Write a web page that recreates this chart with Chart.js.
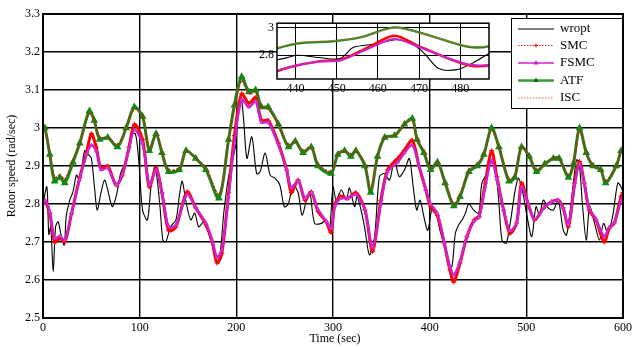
<!DOCTYPE html>
<html>
<head>
<meta charset="utf-8">
<script src="https://cdn.jsdelivr.net/npm/chart.js@4.4.1/dist/chart.umd.min.js"></script>
<style>
  html, body { margin: 0; padding: 0; background: #fff; }
  #wrap { position: relative; width: 635px; height: 347px; }
  #main { position: absolute; left: 0; top: 0; }
  #inset { position: absolute; left: 245px; top: 13px; }
</style>
</head>
<body>
<div id="wrap">
  <canvas id="main" width="635" height="347"></canvas>
  <canvas id="inset" width="250" height="87"></canvas>
</div>
<script>
const FONT = '"Liberation Serif", "Times New Roman", serif';

// ================================================================
// data
// ================================================================

const tRef = [0, 4, 6, 8, 10.6, 13, 15.7, 19, 22, 24, 27.7, 31, 34.6, 38, 43, 47, 50, 53.4, 56, 60,
  63.7, 67, 71.6, 75.7, 80.8, 86, 91, 95.5, 99, 103, 108, 111.7, 116, 121, 124, 127, 132, 137.5, 141, 144,
  147.6, 152.8, 157, 161, 166.4, 171.6, 175, 178.5, 182.6, 187, 192, 199, 202.4, 205, 207.6, 211, 216, 221, 224.6, 229.8,
  235, 240, 245, 249.6, 253.7, 258.8, 264, 268, 272.6, 276, 281, 288, 293, 296.6, 300, 303.4, 308.6, 313.7, 317, 322.3,
  325, 329, 332.6, 337.7, 343, 348, 353, 358.5, 363.5, 368.5, 374, 379, 383, 386.6, 390, 394, 398, 402.8, 406, 410.6,
  414.7, 419.8, 423, 426.6, 430, 433.5, 437, 440.5, 445.6, 450.8, 454, 459.3, 464.4, 468, 471.4, 474.8, 479.2, 483.3, 488.5, 492,
  496.4, 500.5, 505.6, 510, 513.5, 517.6, 522.8, 527.9, 533, 538.2, 541.6, 546.7, 551.8, 554.6, 558, 562, 565.5, 570.6, 575.7, 579.9,
  584.3, 589.5, 594.6, 598, 600];
const wropt = [2.80, 2.845, 2.72, 2.74, 2.622, 2.74, 2.753, 2.714, 2.692, 2.767, 2.81, 2.832, 2.876, 2.86, 2.94, 2.93, 2.92, 2.84, 2.784, 2.829,
  2.863, 2.837, 2.793, 2.82, 2.885, 2.911, 2.98, 2.985, 2.916, 2.784, 2.758, 2.845, 2.898, 2.793, 2.705, 2.70, 2.74, 2.758, 2.82, 2.86,
  2.81, 2.758, 2.776, 2.74, 2.753, 2.731, 2.697, 2.66, 2.66, 2.776, 2.872, 2.95, 3.056, 3.08, 3.02, 2.92, 2.977, 2.88, 2.885, 2.934,
  2.876, 2.868, 2.85, 2.793, 2.80, 2.85, 2.829, 2.771, 2.81, 2.832, 2.749, 2.749, 2.758, 2.737, 2.845, 2.81, 2.837, 2.81, 2.842, 2.793,
  2.82, 2.784, 2.74, 2.666, 2.714, 2.872, 2.88, 2.863, 2.916, 2.872, 2.89, 2.92, 2.845, 2.784, 2.81, 2.767, 2.731, 2.793, 2.784, 2.731,
  2.697, 2.644, 2.635, 2.723, 2.745, 2.758, 2.776, 2.80, 2.784, 2.776, 2.855, 2.88, 2.911, 2.89, 2.81, 2.705, 2.697, 2.749, 2.837, 2.868,
  2.829, 2.771, 2.714, 2.793, 2.771, 2.81, 2.789, 2.784, 2.81, 2.731, 2.718, 2.81, 2.916, 2.911, 2.80, 2.705, 2.793, 2.749, 2.705, 2.749,
  2.723, 2.771, 2.855, 2.845, 2.83];

const tCtl = [0, 2, 7, 12, 17.5, 22.6, 29.5, 38, 45, 50, 55, 60, 67, 75.7, 82, 89, 94.5, 103, 110, 117,
  123, 130, 137.5, 149, 158, 168.5, 175, 180, 185, 192, 198, 205.5, 213, 220, 226, 233, 243.5, 252, 257, 264,
  271, 277.5, 284.6, 293, 298, 302, 308, 315.5, 323.6, 333, 341, 349.5, 356.5, 367, 374, 382, 389, 396, 401, 408,
  415, 421, 425, 431.5, 438.5, 446, 451, 457.5, 464, 469.5, 476.5, 483, 490, 495, 502, 508.6, 518, 526, 533, 538,
  543.5, 550, 555, 560, 565, 572, 580.5, 586, 591, 598, 600];
const smc = [2.81, 2.81, 2.775, 2.70, 2.71, 2.70, 2.775, 2.87, 2.935, 2.985, 2.95, 2.895, 2.90, 2.85, 2.876, 2.95, 3.01, 2.97, 2.845, 2.895,
  2.83, 2.73, 2.74, 2.832, 2.79, 2.745, 2.70, 2.645, 2.67, 2.83, 2.98, 3.09, 3.065, 3.08, 3.02, 3.02, 2.96, 2.89, 2.83, 2.863,
  2.81, 2.832, 2.78, 2.753, 2.725, 2.80, 2.82, 2.815, 2.83, 2.785, 2.675, 2.81, 2.89, 2.92, 2.942, 2.968, 2.90, 2.837, 2.793, 2.77,
  2.697, 2.626, 2.595, 2.645, 2.714, 2.758, 2.767, 2.855, 2.94, 2.872, 2.784, 2.723, 2.75, 2.855, 2.80, 2.758, 2.79, 2.806, 2.81, 2.79,
  2.74, 2.855, 2.912, 2.855, 2.784, 2.758, 2.70, 2.737, 2.75, 2.82, 2.83];
const fsmc = [2.80, 2.81, 2.78, 2.71, 2.715, 2.705, 2.775, 2.865, 2.93, 2.955, 2.94, 2.89, 2.895, 2.85, 2.876, 2.945, 2.995, 2.96, 2.85, 2.89,
  2.83, 2.74, 2.745, 2.825, 2.79, 2.75, 2.705, 2.66, 2.68, 2.82, 2.96, 3.075, 3.055, 3.07, 3.015, 3.015, 2.955, 2.89, 2.842, 2.86,
  2.815, 2.83, 2.785, 2.755, 2.735, 2.795, 2.815, 2.815, 2.825, 2.785, 2.685, 2.80, 2.885, 2.91, 2.935, 2.955, 2.90, 2.84, 2.80, 2.775,
  2.70, 2.635, 2.613, 2.65, 2.715, 2.755, 2.765, 2.845, 2.916, 2.865, 2.785, 2.73, 2.75, 2.845, 2.80, 2.76, 2.79, 2.805, 2.81, 2.79,
  2.745, 2.85, 2.905, 2.855, 2.79, 2.76, 2.715, 2.74, 2.75, 2.81, 2.82];

const tAdp = [0, 2, 7, 12, 17.5, 22.6, 31, 38, 48, 53, 58.6, 67, 77, 86, 94.5, 103, 110, 117, 123, 130,
  141, 148, 158, 168.5, 182, 192, 198, 205.5, 213, 220, 226, 233, 243.5, 254, 261, 269, 277.5, 284.6, 298, 305,
  312, 318.5, 323.6, 333, 339, 346, 353.5, 363.7, 374, 382, 387, 394, 401, 408, 416, 425, 431.5, 440.6, 449, 456,
  464, 471.6, 482, 488, 495, 503, 510.6, 519, 528, 534, 543.5, 548.6, 555, 562, 569, 577, 582, 593, 598, 600];
const atf = [3.00, 3.00, 2.93, 2.86, 2.87, 2.855, 2.91, 2.96, 3.045, 3.02, 2.97, 2.975, 2.95, 3.00, 3.055, 3.03, 2.94, 2.985, 2.935, 2.885,
  2.89, 2.94, 2.92, 2.89, 2.815, 2.97, 3.06, 3.135, 3.095, 3.10, 3.055, 3.055, 3.01, 2.95, 2.965, 2.935, 2.95, 2.90, 2.88, 2.93,
  2.94, 2.925, 2.94, 2.90, 2.83, 2.925, 2.975, 2.98, 3.01, 3.025, 2.97, 2.935, 2.89, 2.91, 2.855, 2.795, 2.82, 2.885, 2.90, 2.93,
  3.00, 2.95, 2.86, 2.87, 2.95, 2.925, 2.885, 2.905, 2.92, 2.92, 2.87, 2.905, 3.00, 2.935, 2.90, 2.89, 2.855, 2.90, 2.94, 2.94];
const isc = [3.00, 3.00, 2.935, 2.87, 2.875, 2.865, 2.915, 2.96, 3.04, 3.02, 2.975, 2.975, 2.955, 3.00, 3.05, 3.03, 2.945, 2.985, 2.94, 2.89,
  2.895, 2.94, 2.92, 2.895, 2.825, 2.97, 3.055, 3.125, 3.09, 3.095, 3.055, 3.05, 3.01, 2.955, 2.965, 2.94, 2.95, 2.905, 2.885, 2.93,
  2.94, 2.93, 2.94, 2.905, 2.84, 2.925, 2.975, 2.98, 3.01, 3.02, 2.97, 2.94, 2.895, 2.91, 2.86, 2.80, 2.825, 2.89, 2.905, 2.93,
  2.995, 2.95, 2.865, 2.875, 2.95, 2.925, 2.89, 2.905, 2.92, 2.92, 2.875, 2.905, 2.995, 2.935, 2.90, 2.89, 2.86, 2.90, 2.94, 2.94];

const xTicks = [0, 100, 200, 300, 400, 500, 600];
const yTicks = [2.5, 2.6, 2.7, 2.8, 2.9, 3, 3.1, 3.2, 3.3];
const insetXTicks = [440, 450, 460, 470, 480];
const insetYTicks = [2.8, 3];

const SERIES = ['wropt', 'SMC', 'FSMC', 'ATF', 'ISC'];

// ================================================================
// helpers
// ================================================================

function pts(ts, vs) {
  return ts.map((t, i) => ({ x: t, y: vs[i] }));
}

function buildDatasets(inset) {
  const k = inset ? 0.8 : 1;
  return [
    { label: 'wropt', data: pts(tRef, wropt), borderColor: '#000', borderWidth: 1.1,
      pointRadius: 0, tension: 0.3, order: 5 },
    { label: 'SMC', data: pts(tCtl, smc), borderColor: '#ff0000', borderWidth: 3 * k,
      pointStyle: 'cross', pointRadius: inset ? 0 : 2.5, pointBorderColor: '#ff0000', pointBorderWidth: 1,
      tension: 0.3, order: 4 },
    { label: 'FSMC', data: pts(tCtl, fsmc), borderColor: '#cc22cc', borderWidth: 2.5 * k,
      pointStyle: 'triangle', pointRadius: inset ? 0 : 1.8, pointBackgroundColor: '#e070e0', pointBorderColor: '#cc22cc', pointBorderWidth: 1,
      tension: 0.3, order: 3 },
    { label: 'ATF', data: pts(tAdp, atf), borderColor: '#1a8a1a', borderWidth: 3 * k,
      pointStyle: 'triangle', pointRadius: inset ? 0 : 1.5, pointBackgroundColor: '#138813', pointBorderColor: '#138813',
      tension: 0.3, order: 2 },
    { label: 'ISC', data: pts(tAdp, isc), borderColor: inset ? '#c07040' : '#8b4513', borderWidth: inset ? 1.3 : 1.8,
      borderDash: inset ? [2, 1] : [3, 1],
      pointRadius: 0, tension: 0.3, order: 1 },
  ];
}

const framePlugin = {
  id: 'frame',
  beforeDraw(chart) {
    const { ctx, chartArea: a } = chart;
    ctx.save();
    ctx.fillStyle = '#fff';
    ctx.fillRect(a.left, a.top, a.right - a.left, a.bottom - a.top);
    ctx.restore();
  },
  afterDraw(chart) {
    const { ctx, chartArea: a } = chart;
    ctx.save();
    ctx.strokeStyle = '#000';
    ctx.lineWidth = chart.canvas.id === 'main' ? 2 : 1.5;
    ctx.strokeRect(a.left, a.top, a.right - a.left, a.bottom - a.top);
    ctx.restore();
  },
};

// axis titles + legend box on the main chart
const decorPlugin = {
  id: 'decor',
  afterDraw(chart) {
    const { ctx } = chart;
    ctx.save();
    ctx.fillStyle = '#000';
    ctx.font = `12px ${FONT}`;
    ctx.textAlign = 'center';
    ctx.textBaseline = 'middle';
    ctx.fillText('Time (sec)', 335, 339);
    ctx.translate(12, 166);
    ctx.rotate(-Math.PI / 2);
    ctx.fillText('Rotor speed (rad/sec)', 0, 0);
    ctx.restore();

    // legend
    const bx = 511, by = 18, bw = 111, bh = 90;
    ctx.save();
    ctx.fillStyle = '#fff';
    ctx.fillRect(bx, by, bw, bh);
    ctx.strokeStyle = '#000';
    ctx.lineWidth = 1;
    ctx.strokeRect(bx + 0.5, by + 0.5, bw, bh);

    const rows = [29, 45.5, 63, 80.5, 98];
    const x0 = 518, x1 = 554, xm = 536;
    ctx.font = `13px ${FONT}`;
    ctx.textAlign = 'left';
    ctx.textBaseline = 'middle';
    SERIES.forEach((name, i) => {
      const y = rows[i];
      ctx.save();
      ctx.beginPath();
      if (name === 'wropt') { ctx.strokeStyle = '#000'; ctx.lineWidth = 1.2; }
      if (name === 'SMC') { ctx.strokeStyle = '#ff2020'; ctx.lineWidth = 1; ctx.setLineDash([1.5, 1.5]); }
      if (name === 'FSMC') { ctx.strokeStyle = '#cc22cc'; ctx.lineWidth = 1.5; }
      if (name === 'ATF') { ctx.strokeStyle = '#3a9a3a'; ctx.lineWidth = 2.5; }
      if (name === 'ISC') { ctx.strokeStyle = '#c87050'; ctx.lineWidth = 1.2; ctx.setLineDash([1.5, 1.5]); }
      ctx.moveTo(x0, y);
      ctx.lineTo(x1, y);
      ctx.stroke();
      ctx.setLineDash([]);
      if (name === 'SMC') {
        ctx.strokeStyle = '#ff0000';
        ctx.beginPath();
        ctx.moveTo(xm - 2, y); ctx.lineTo(xm + 2, y);
        ctx.moveTo(xm, y - 2); ctx.lineTo(xm, y + 2);
        ctx.stroke();
      }
      if (name === 'FSMC' || name === 'ATF') {
        ctx.fillStyle = name === 'FSMC' ? '#cc22cc' : '#0a6a0a';
        ctx.beginPath();
        ctx.moveTo(xm, y - 3); ctx.lineTo(xm + 2.5, y + 1.5); ctx.lineTo(xm - 2.5, y + 1.5);
        ctx.closePath();
        ctx.fill();
      }
      ctx.restore();
      ctx.fillStyle = '#000';
      ctx.fillText(name, 560, y);
    });
    ctx.restore();
  },
};

function axisOpts(min, max, ticks, size, fit) {
  return {
    type: 'linear',
    min, max,
    afterBuildTicks: (s) => { s.ticks = ticks.map((v) => ({ value: v })); },
    afterFit: fit,
    ticks: {
      color: '#000',
      font: { family: FONT, size },
      padding: 3,
      maxRotation: 0,
      autoSkip: false,
      callback: (v) => String(Math.round(v * 10) / 10),
    },
    grid: { color: '#000', lineWidth: 1.4, drawTicks: false },
    border: { display: false },
  };
}

// ================================================================
// charts
// ================================================================

new Chart(document.getElementById('main'), {
  type: 'line',
  data: { datasets: buildDatasets(false) },
  options: {
    responsive: false,
    animation: false,
    devicePixelRatio: 1,
    layout: { padding: { top: 14, right: 8, left: 0, bottom: 0 } },
    plugins: { legend: { display: false }, tooltip: { enabled: false } },
    scales: {
      x: axisOpts(0, 600, xTicks, 12, (s) => { s.height = 29; }),
      y: axisOpts(2.5, 3.3, yTicks, 12, (s) => { s.width = 43; }),
    },
  },
  plugins: [framePlugin, decorPlugin],
});

const insetX = axisOpts(435.5, 487, insetXTicks, 12, (s) => { s.height = 21; });
const insetY = axisOpts(2.63, 3.03, insetYTicks, 12, (s) => { s.width = 32; });
insetX.grid.lineWidth = 1;
insetY.grid.lineWidth = 1;

new Chart(document.getElementById('inset'), {
  type: 'line',
  data: { datasets: buildDatasets(true) },
  options: {
    responsive: false,
    animation: false,
    devicePixelRatio: 1,
    layout: { padding: { top: 10, right: 6, left: 0, bottom: 0 } },
    plugins: { legend: { display: false }, tooltip: { enabled: false } },
    scales: { x: insetX, y: insetY },
  },
  plugins: [framePlugin],
});
</script>
</body>
</html>
